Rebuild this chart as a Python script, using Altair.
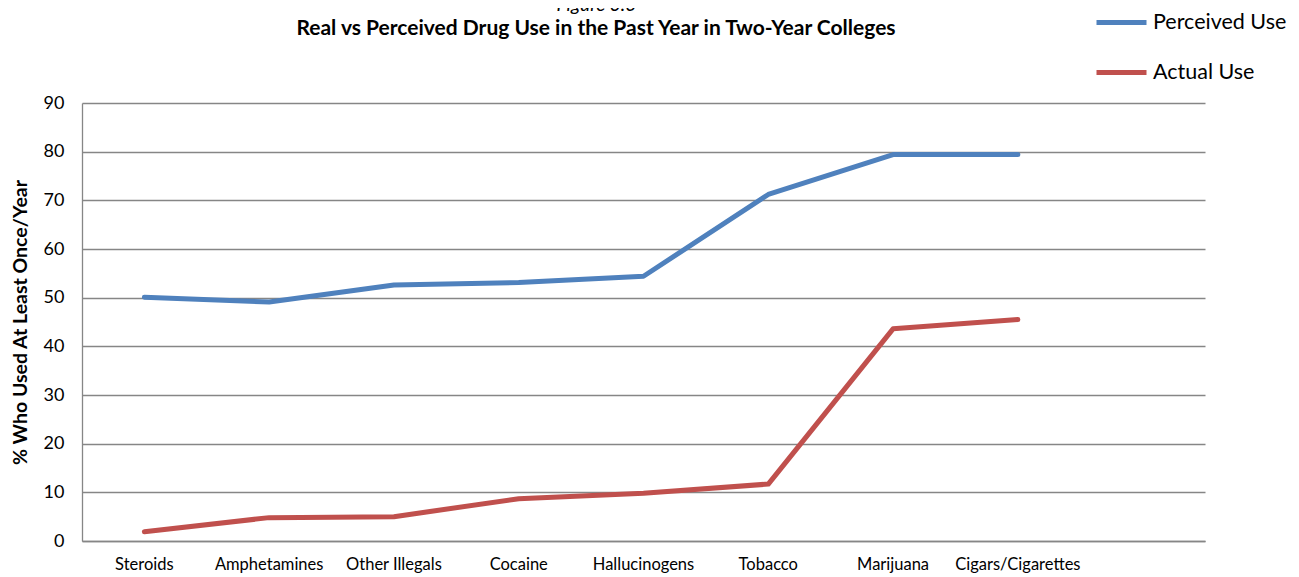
import altair as alt
import pandas as pd

categories = ["Steroids", "Amphetamines", "Other Illegals", "Cocaine",
              "Hallucinogens", "Tobacco", "Marijuana", "Cigars/Cigarettes"]
perceived = [50.1, 49.1, 52.6, 53.1, 54.4, 71.2, 79.4, 79.4]
actual = [1.9, 4.8, 5.0, 8.7, 9.8, 11.7, 43.6, 45.5]
series = ["Perceived Use", "Actual Use"]
colors = ["#4F81BD", "#C0504D"]
y_ticks = [0, 10, 20, 30, 40, 50, 60, 70, 80, 90]
fig_label = ["Figure 3.6"]
main_title = ["Real vs Perceived Drug Use in the Past Year in Two-Year Colleges"]

rows = []
for i, c in enumerate(categories):
    rows.append({"cat": c, "series": series[0], "value": perceived[i], "order": i})
    rows.append({"cat": c, "series": series[1], "value": actual[i], "order": i})
df = pd.DataFrame(rows)

FONT = "Lato"

lines = alt.Chart(df).mark_line(strokeWidth=5, strokeCap="round", strokeJoin="round").encode(
    x=alt.X("cat:N", sort=None,
            scale=alt.Scale(domain=categories + [" "], type="band", paddingInner=0, paddingOuter=0),
            axis=alt.Axis(title=None, labelAngle=0, ticks=False, grid=False,
                          labelFontSize=16.5, labelColor="#000000", labelFont=FONT,
                          labelPadding=15, domainColor="#868686", domainWidth=1.3)),
    y=alt.Y("value:Q", scale=alt.Scale(domain=[0, 90], nice=False),
            axis=alt.Axis(values=y_ticks, title="% Who Used At Least Once/Year",
                          titleFont=FONT, titleFontSize=19.5, titleFontWeight="bold",
                          titleColor="#000000", titlePadding=13,
                          labelFont=FONT, labelFontSize=18, labelColor="#000000",
                          labelPadding=18, ticks=False, grid=True,
                          gridColor="#868686", gridWidth=1.3,
                          domainColor="#868686", domainWidth=1.3)),
    color=alt.Color("series:N", scale=alt.Scale(domain=series, range=colors),
                    legend=alt.Legend(title=None, orient="none", legendX=1012, legendY=-108,
                                      symbolType="stroke", symbolSize=2500,
                                      symbolStrokeWidth=5, labelFontSize=21.5,
                                      labelFont=FONT, labelColor="#000000",
                                      labelOffset=4, rowPadding=12)),
    order="order:Q",
)

fig_text = alt.Chart(pd.DataFrame({"t": fig_label})).mark_text(
    font=FONT, fontSize=19, fontStyle="italic", color="#000000", baseline="alphabetic", align="center"
).encode(text="t:N", x=alt.value(514), y=alt.value(-92))

title_text = alt.Chart(pd.DataFrame({"t": main_title})).mark_text(
    font=FONT, fontSize=21, fontWeight="bold", color="#000000", baseline="alphabetic", align="center"
).encode(text="t:N", x=alt.value(514), y=alt.value(-68))

chart = alt.layer(lines, fig_text, title_text).properties(
    width=1123, height=438,
    autosize=alt.AutoSizeParams(type="none"),
    padding={"left": 74, "top": 95, "right": 86, "bottom": 34},
).configure_view(stroke=None)

chart.save("out.html", embed_options={"renderer": "svg", "actions": False})
